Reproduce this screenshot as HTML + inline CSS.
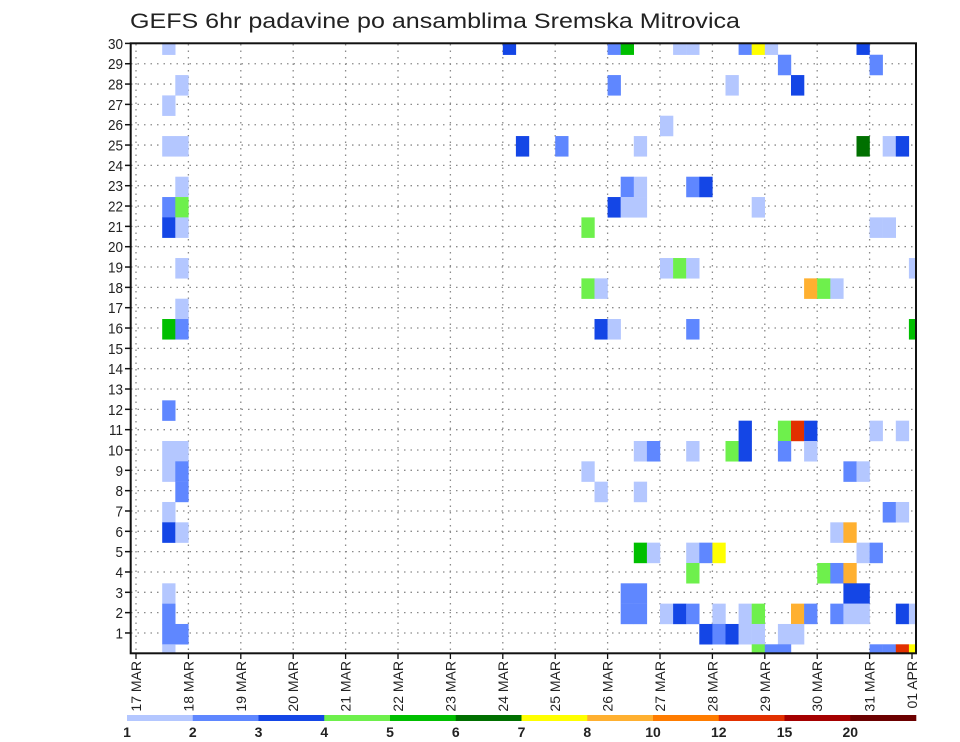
<!DOCTYPE html>
<html><head><meta charset="utf-8"><style>
html,body{margin:0;padding:0;background:#fff;}
svg{display:block;font-family:"Liberation Sans",sans-serif;}
</style></head><body>
<svg id="chart" width="960" height="742" viewBox="0 0 960 742">
<text x="130" y="28" font-size="21" fill="#222" textLength="610" lengthAdjust="spacingAndGlyphs">GEFS 6hr padavine po ansamblima Sremska Mitrovica</text>
<defs><clipPath id="plotclip"><rect x="131" y="43.3" width="785" height="610"/></clipPath></defs>
<g id="grid"></g>
<g id="cells" clip-path="url(#plotclip)"></g>
<rect x="130.7" y="43.3" width="785.3" height="610" fill="none" stroke="#111" stroke-width="2"/>
<g id="yaxis"></g>
<g id="xaxis"></g>
<g id="legend"></g>
</svg>
<script>
const dayLabels = ["17 MAR","18 MAR","19 MAR","20 MAR","21 MAR","22 MAR","23 MAR","24 MAR","25 MAR","26 MAR","27 MAR","28 MAR","29 MAR","30 MAR","31 MAR","01 APR"];
const memberTicks = [1,2,3,4,5,6,7,8,9,10,11,12,13,14,15,16,17,18,19,20,21,22,23,24,25,26,27,28,29,30];
const legendLevels = [1,2,3,4,5,6,7,8,10,12,15,20];
const legendColors = ["#b4c7ff","#5f87ff","#1446e6","#6ef04c","#00bf00","#007000","#ffff00","#ffb030","#ff7c00","#e23000","#a50000","#6c0000"];
// 6-hourly step index (0 = 17 MAR 00z)
const cellStep = [2,3,2,2,3,3,2,3,2,3,3,3,2,3,2,2,3,2,3,3,2,2,3,2,2,2,3,2,
28,36,37,41,42,36,40,29,32,38,37,38,42,43,36,37,38,34,40,41,42,34,35,35,36,42,
46,47,48,55,49,56,45,50,55,57,58,47,56,57,59,51,52,53,59,
46,38,39,42,45,46,34,35,38,38,39,42,43,44,42,37,38,37,38,40,41,42,44,46,43,44,45,46,
49,50,51,56,58,49,51,54,55,57,58,53,54,55,56,52,53,54,54,55,47,50,51,53,54,55,58,59,47,49,50,47,48,49,56,57,58,59];
const cellMember = [30,28,27,25,25,23,22,22,21,21,19,17,16,16,12,10,10,9,9,8,7,6,6,3,2,1,1,0,
30,30,30,30,30,28,26,25,25,25,23,23,23,23,22,22,22,21,19,19,19,18,18,16,16,16,
30,30,30,30,29,29,28,28,25,25,25,22,21,21,19,18,18,18,16,
11,10,10,10,10,10,9,8,8,5,5,5,5,5,4,3,3,2,2,2,2,2,2,2,1,1,1,1,
11,11,11,11,11,10,10,9,9,7,7,6,6,5,5,4,4,4,3,3,2,2,2,2,2,2,2,2,1,1,1,0,0,0,0,0,0,0];
const cellValue = [1.5,1.5,1.5,1.5,1.5,1.5,2.5,4.5,3.5,1.5,1.5,1.5,5.5,2.5,2.5,1.5,1.5,1.5,2.5,2.5,1.5,3.5,1.5,1.5,2.5,2.5,2.5,1.5,
3.5,2.5,5.5,1.5,1.5,2.5,1.5,3.5,2.5,1.5,2.5,1.5,2.5,3.5,3.5,1.5,1.5,4.5,1.5,4.5,1.5,4.5,1.5,3.5,1.5,2.5,
2.5,7.5,1.5,3.5,2.5,2.5,1.5,3.5,6.5,1.5,3.5,1.5,1.5,1.5,1.5,9,4.5,1.5,5.5,
3.5,1.5,2.5,1.5,4.5,3.5,1.5,1.5,1.5,5.5,1.5,1.5,2.5,7.5,4.5,2.5,2.5,2.5,2.5,1.5,3.5,2.5,1.5,1.5,3.5,2.5,3.5,1.5,
4.5,13,3.5,1.5,1.5,2.5,1.5,2.5,1.5,2.5,1.5,1.5,9,1.5,2.5,4.5,2.5,9,3.5,3.5,4.5,9,2.5,2.5,1.5,1.5,3.5,1.5,1.5,1.5,1.5,4.5,2.5,2.5,2.5,2.5,13,7.5];

const NS="http://www.w3.org/2000/svg";
const X0=136, DAYW=52.4, STEPW=DAYW/4, YB=653.3, ROWH=20.33;
function xDay(d){return X0+d*DAYW;}
function xStep(s){return X0+s*STEPW;}
function yMember(m){return YB-m*ROWH;}
function cellTop(m){return 644.3-m*ROWH;}
function colorFor(v){let c=0;for(let i=0;i<legendLevels.length;i++){if(v>=legendLevels[i])c=i;}return legendColors[c];}
function mk(tag,attrs,parent){const e=document.createElementNS(NS,tag);for(const k in attrs)e.setAttribute(k,attrs[k]);parent.appendChild(e);return e;}

const grid=document.getElementById('grid');
memberTicks.forEach(m=>{
  if(m>=30) return;
  const l=mk('line',{x1:131,x2:916,y1:yMember(m),y2:yMember(m),stroke:'#8a8a8a','stroke-width':1.3,'stroke-dasharray':'1.5 5'},grid);
  
  
});
dayLabels.forEach((d,i)=>{
  const x=xDay(i); if(x>915) return;
  const l=mk('line',{x1:x,x2:x,y1:44,y2:653,stroke:'#8a8a8a','stroke-width':1.3,'stroke-dasharray':'1.5 5'},grid);
  
  
});

const cells=document.getElementById('cells');
for(let i=0;i<cellStep.length;i++){
  const r=mk('rect',{x:xStep(cellStep[i]),y:cellTop(cellMember[i]),width:STEPW+0.2,height:ROWH+0.2,fill:colorFor(cellValue[i])},cells);
  
  
}

const ya=document.getElementById('yaxis');
memberTicks.forEach(m=>{
  const y=yMember(m);
  const t=mk('line',{x1:125,x2:131,y1:y,y2:y,stroke:'#111','stroke-width':1.5},ya);
  
  
  const tx=mk('text',{x:123,y:y+5.5,'font-size':15,'text-anchor':'end',fill:'#222',transform:'translate(123 0) scale(0.9 1) translate(-123 0)'},ya);
  tx.textContent=m;
  
  
});

const xa=document.getElementById('xaxis');
dayLabels.forEach((d,i)=>{
  let x=xDay(i); if(x>916) x=912;
  const t=mk('line',{x1:x,x2:x,y1:653,y2:659,stroke:'#111','stroke-width':1.3},xa);
  
  
  const tx=mk('text',{x:0,y:0,'font-size':14,'text-anchor':'end',fill:'#222',transform:'translate('+(x+5)+',661) rotate(-90)'},xa);
  tx.textContent=d;
  
  
});

const lg=document.getElementById('legend');
const LX=127, LW=(916-127)/legendColors.length;
legendColors.forEach((c,i)=>{
  const r=mk('rect',{x:LX+i*LW,y:715,width:LW+0.3,height:6,fill:c},lg);
  
  
});
legendLevels.forEach((v,i)=>{
  const tx=mk('text',{x:LX+i*LW,y:737,'font-size':14,'font-weight':'bold','text-anchor':'middle',fill:'#222'},lg);
  tx.textContent=v;
  
  
});
</script>
</body></html>
